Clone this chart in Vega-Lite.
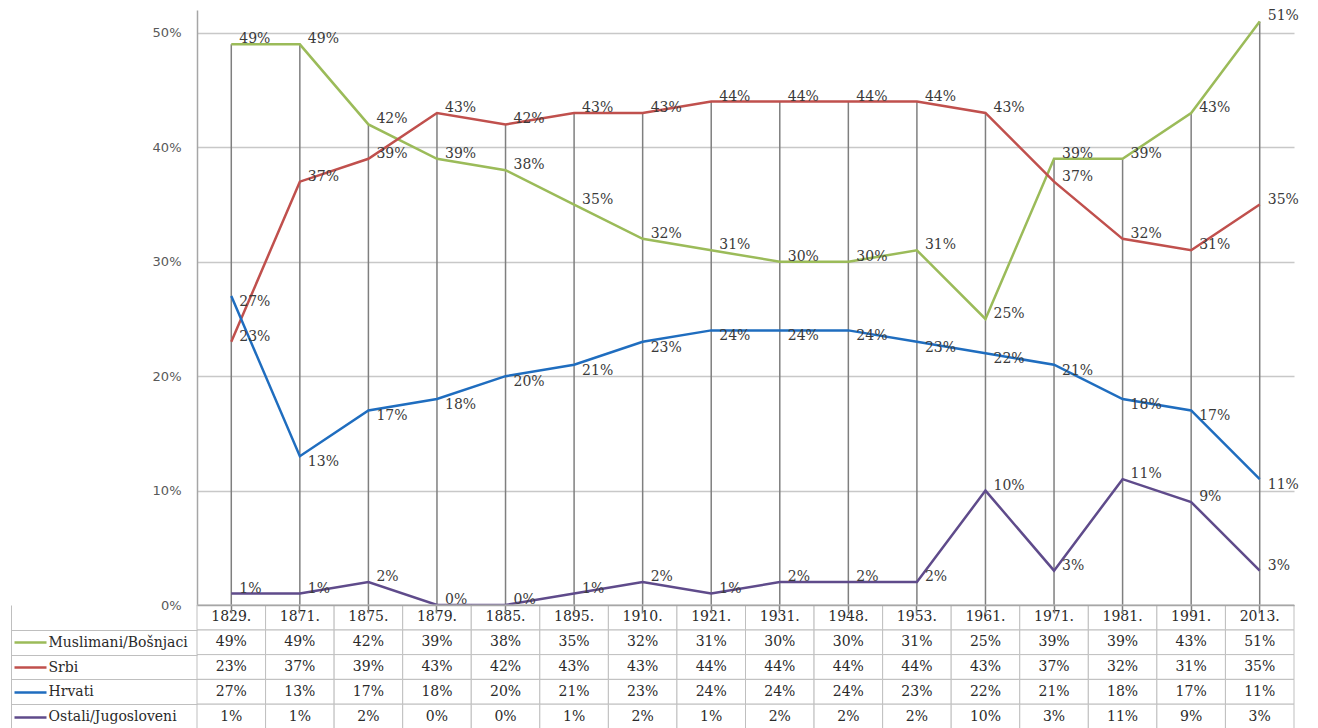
{
  "$schema": "https://vega.github.io/schema/vega-lite/v6.json",
  "background": "white",
  "padding": {"top": 9, "left": 10, "right": 0, "bottom": 0},
  "spacing": 0,
  "bounds": "flush",
  "config": {"view": {"stroke": null}},
  "datasets": {
    "d": [
      {"year": "1829.", "series": "Muslimani/Bošnjaci", "value": 0.49},
      {"year": "1871.", "series": "Muslimani/Bošnjaci", "value": 0.49},
      {"year": "1875.", "series": "Muslimani/Bošnjaci", "value": 0.42},
      {"year": "1879.", "series": "Muslimani/Bošnjaci", "value": 0.39},
      {"year": "1885.", "series": "Muslimani/Bošnjaci", "value": 0.38},
      {"year": "1895.", "series": "Muslimani/Bošnjaci", "value": 0.35},
      {"year": "1910.", "series": "Muslimani/Bošnjaci", "value": 0.32},
      {"year": "1921.", "series": "Muslimani/Bošnjaci", "value": 0.31},
      {"year": "1931.", "series": "Muslimani/Bošnjaci", "value": 0.30},
      {"year": "1948.", "series": "Muslimani/Bošnjaci", "value": 0.30},
      {"year": "1953.", "series": "Muslimani/Bošnjaci", "value": 0.31},
      {"year": "1961.", "series": "Muslimani/Bošnjaci", "value": 0.25},
      {"year": "1971.", "series": "Muslimani/Bošnjaci", "value": 0.39},
      {"year": "1981.", "series": "Muslimani/Bošnjaci", "value": 0.39},
      {"year": "1991.", "series": "Muslimani/Bošnjaci", "value": 0.43},
      {"year": "2013.", "series": "Muslimani/Bošnjaci", "value": 0.51},
      {"year": "1829.", "series": "Srbi", "value": 0.23},
      {"year": "1871.", "series": "Srbi", "value": 0.37},
      {"year": "1875.", "series": "Srbi", "value": 0.39},
      {"year": "1879.", "series": "Srbi", "value": 0.43},
      {"year": "1885.", "series": "Srbi", "value": 0.42},
      {"year": "1895.", "series": "Srbi", "value": 0.43},
      {"year": "1910.", "series": "Srbi", "value": 0.43},
      {"year": "1921.", "series": "Srbi", "value": 0.44},
      {"year": "1931.", "series": "Srbi", "value": 0.44},
      {"year": "1948.", "series": "Srbi", "value": 0.44},
      {"year": "1953.", "series": "Srbi", "value": 0.44},
      {"year": "1961.", "series": "Srbi", "value": 0.43},
      {"year": "1971.", "series": "Srbi", "value": 0.37},
      {"year": "1981.", "series": "Srbi", "value": 0.32},
      {"year": "1991.", "series": "Srbi", "value": 0.31},
      {"year": "2013.", "series": "Srbi", "value": 0.35},
      {"year": "1829.", "series": "Hrvati", "value": 0.27},
      {"year": "1871.", "series": "Hrvati", "value": 0.13},
      {"year": "1875.", "series": "Hrvati", "value": 0.17},
      {"year": "1879.", "series": "Hrvati", "value": 0.18},
      {"year": "1885.", "series": "Hrvati", "value": 0.20},
      {"year": "1895.", "series": "Hrvati", "value": 0.21},
      {"year": "1910.", "series": "Hrvati", "value": 0.23},
      {"year": "1921.", "series": "Hrvati", "value": 0.24},
      {"year": "1931.", "series": "Hrvati", "value": 0.24},
      {"year": "1948.", "series": "Hrvati", "value": 0.24},
      {"year": "1953.", "series": "Hrvati", "value": 0.23},
      {"year": "1961.", "series": "Hrvati", "value": 0.22},
      {"year": "1971.", "series": "Hrvati", "value": 0.21},
      {"year": "1981.", "series": "Hrvati", "value": 0.18},
      {"year": "1991.", "series": "Hrvati", "value": 0.17},
      {"year": "2013.", "series": "Hrvati", "value": 0.11},
      {"year": "1829.", "series": "Ostali/Jugosloveni", "value": 0.01},
      {"year": "1871.", "series": "Ostali/Jugosloveni", "value": 0.01},
      {"year": "1875.", "series": "Ostali/Jugosloveni", "value": 0.02},
      {"year": "1879.", "series": "Ostali/Jugosloveni", "value": 0.0},
      {"year": "1885.", "series": "Ostali/Jugosloveni", "value": 0.0},
      {"year": "1895.", "series": "Ostali/Jugosloveni", "value": 0.01},
      {"year": "1910.", "series": "Ostali/Jugosloveni", "value": 0.02},
      {"year": "1921.", "series": "Ostali/Jugosloveni", "value": 0.01},
      {"year": "1931.", "series": "Ostali/Jugosloveni", "value": 0.02},
      {"year": "1948.", "series": "Ostali/Jugosloveni", "value": 0.02},
      {"year": "1953.", "series": "Ostali/Jugosloveni", "value": 0.02},
      {"year": "1961.", "series": "Ostali/Jugosloveni", "value": 0.10},
      {"year": "1971.", "series": "Ostali/Jugosloveni", "value": 0.03},
      {"year": "1981.", "series": "Ostali/Jugosloveni", "value": 0.11},
      {"year": "1991.", "series": "Ostali/Jugosloveni", "value": 0.09},
      {"year": "2013.", "series": "Ostali/Jugosloveni", "value": 0.03}
    ]
  },
  "vconcat": [
    {
      "width": 1097,
      "height": 595,
      "data": {"name": "d"},
      "encoding": {
        "x": {"field": "year", "type": "ordinal", "sort": null, "scale": {"type": "point", "padding": 0.5}, "axis": null}
      },
      "layer": [
        {
          "transform": [{"aggregate": [{"op": "max", "field": "value", "as": "top"}], "groupby": ["year"]}],
          "mark": {"type": "rule", "color": "#7F7F7F", "strokeWidth": 1.5},
          "encoding": {
            "y": {"field": "top", "type": "quantitative", "scale": {"domain": [0, 0.52], "nice": false},
              "axis": {"values": [0, 0.1, 0.2, 0.3, 0.4, 0.5], "format": ".0%", "grid": true, "gridColor": "#C8C8C8", "gridWidth": 1.5, "ticks": false, "domainColor": "#A6A6A6", "domainWidth": 1.5, "labelFont": "DejaVu Sans", "labelFontSize": 13, "labelColor": "#595959", "labelPadding": 16, "minExtent": 186, "maxExtent": 186, "title": null}},
            "y2": {"datum": 0}
          }
        },
        {
          "mark": {"type": "line", "strokeWidth": 2.5},
          "encoding": {
            "y": {"field": "value", "type": "quantitative"},
            "color": {"field": "series", "type": "nominal", "legend": null,
              "scale": {"domain": ["Muslimani/Bošnjaci", "Srbi", "Hrvati", "Ostali/Jugosloveni"], "range": ["#9BBB59", "#C0504D", "#1F6DBF", "#5F4B8B"]}}
          }
        },
        {
          "transform": [{"filter": "datum.series != 'Hrvati'"}],
          "mark": {"type": "text", "align": "left", "baseline": "middle", "dx": 8, "dy": -5, "font": "DejaVu Serif", "fontSize": 14, "color": "#3A3A3A"},
          "encoding": {
            "y": {"field": "value", "type": "quantitative"},
            "text": {"field": "value", "type": "quantitative", "format": ".0%"}
          }
        },
        {
          "transform": [{"filter": "datum.series == 'Hrvati'"}],
          "mark": {"type": "text", "align": "left", "baseline": "middle", "dx": 8, "dy": 6, "font": "DejaVu Serif", "fontSize": 14, "color": "#3A3A3A"},
          "encoding": {
            "y": {"field": "value", "type": "quantitative"},
            "text": {"field": "value", "type": "quantitative", "format": ".0%"}
          }
        }
      ]
    },
    {
      "width": 1097,
      "height": 124,
      "data": {"name": "d"},
      "encoding": {
        "x": {"field": "year", "type": "ordinal", "sort": null, "scale": {"type": "band", "paddingInner": 0, "paddingOuter": 0},
          "axis": {"orient": "top", "labels": false, "ticks": true, "tickSize": -8, "tickColor": "#7F7F7F", "tickWidth": 1.5, "domain": true, "domainColor": "#A6A6A6", "domainWidth": 1.5, "title": null}}
      },
      "layer": [
        {
          "layer": [
            {
              "mark": {"type": "rect", "fill": "white", "stroke": "#BFBFBF", "strokeWidth": 1},
              "encoding": {
                "y": {"field": "series", "type": "nominal",
                  "scale": {"domain": ["hdr", "Muslimani/Bošnjaci", "Srbi", "Hrvati", "Ostali/Jugosloveni"], "paddingInner": 0, "paddingOuter": 0},
                  "axis": {"orient": "left", "values": ["Muslimani/Bošnjaci", "Srbi", "Hrvati", "Ostali/Jugosloveni"], "tickBand": "extent", "tickSize": 186, "tickColor": "#BFBFBF", "tickWidth": 1, "domain": false, "grid": false, "labelAlign": "left", "labelBaseline": "middle", "labelPadding": -37, "labelFont": "DejaVu Serif", "labelFontSize": 14, "labelColor": "#2A2A2A", "labelLimit": 0, "title": null}}
              }
            },
            {
              "transform": [{"filter": "datum.series == 'Srbi'"}],
              "mark": {"type": "rect", "fill": "white", "stroke": "#BFBFBF", "strokeWidth": 1},
              "encoding": {"y": {"datum": "hdr", "type": "nominal"}}
            },
            {
              "mark": {"type": "text", "baseline": "middle", "font": "DejaVu Serif", "fontSize": 14, "color": "#2A2A2A"},
              "encoding": {
                "y": {"field": "series", "type": "nominal"},
                "text": {"field": "value", "type": "quantitative", "format": ".0%"}
              }
            },
            {
              "transform": [{"filter": "datum.series == 'Srbi'"}],
              "mark": {"type": "text", "baseline": "middle", "font": "DejaVu Serif", "fontSize": 14, "color": "#2A2A2A"},
              "encoding": {
                "y": {"datum": "hdr", "type": "nominal"},
                "text": {"field": "year"}
              }
            }
          ]
        },
        {
          "mark": {"type": "text", "text": ""},
          "encoding": {
            "y": {"field": "series", "type": "nominal",
              "scale": {"domain": ["hdr", "Muslimani/Bošnjaci", "Srbi", "Hrvati", "Ostali/Jugosloveni"], "paddingInner": 0, "paddingOuter": 0},
              "axis": {"orient": "left", "offset": 151, "values": ["Muslimani/Bošnjaci", "Srbi", "Hrvati", "Ostali/Jugosloveni"], "tickSize": 32, "tickWidth": 2.5,
                "tickColor": {"condition": [
                  {"test": "datum.value === 'Muslimani/Bošnjaci'", "value": "#9BBB59"},
                  {"test": "datum.value === 'Srbi'", "value": "#C0504D"},
                  {"test": "datum.value === 'Hrvati'", "value": "#1F6DBF"}
                ], "value": "#5F4B8B"},
                "labels": false, "domain": false, "grid": false, "title": null}}
          }
        },
        {
          "mark": {"type": "text", "text": ""},
          "encoding": {
            "y": {"field": "series", "type": "nominal",
              "scale": {"domain": ["hdr", "Muslimani/Bošnjaci", "Srbi", "Hrvati", "Ostali/Jugosloveni"], "paddingInner": 0, "paddingOuter": 0},
              "axis": {"orient": "left", "offset": 186, "ticks": false, "labels": false, "domain": true, "domainColor": "#BFBFBF", "domainWidth": 1, "grid": false, "title": null}}
          }
        }
      ],
      "resolve": {"scale": {"y": "independent"}}
    }
  ]
}
